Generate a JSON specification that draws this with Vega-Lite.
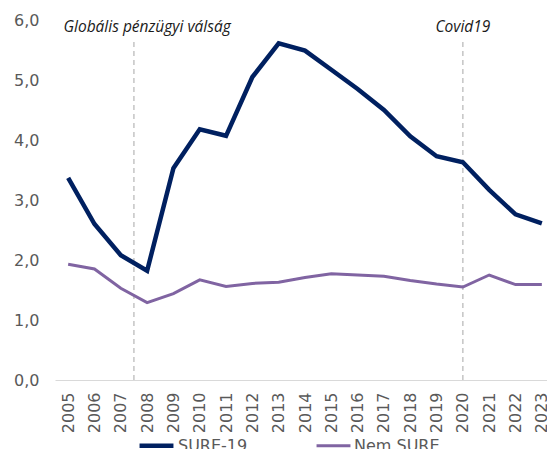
{
  "$schema": "https://vega.github.io/schema/vega-lite/v6.json",
  "width": 500,
  "height": 360,
  "autosize": {"type": "none"},
  "padding": {"left": 55, "top": 20, "right": 0, "bottom": 90},
  "config": {
    "view": {"stroke": null},
    "font": "DejaVu Sans",
    "axis": {"labelFont": "DejaVu Sans", "labelFontSize": 16, "labelColor": "#595959", "ticks": false, "grid": false, "title": null},
    "axisX": {"labelOverlap": false},
    "legend": {"labelFont": "DejaVu Sans", "labelFontSize": 16, "labelColor": "#595959"}
  },
  "encoding": {
    "x": {
      "type": "quantitative",
      "scale": {"domain": [2004.5, 2023.5], "nice": false, "zero": false},
      "axis": {
        "values": [2005, 2006, 2007, 2008, 2009, 2010, 2011, 2012, 2013, 2014, 2015, 2016, 2017, 2018, 2019, 2020, 2021, 2022, 2023],
        "format": "d", "labelAngle": -90, "labelPadding": 12,
        "domainColor": "#D9D9D9", "domainWidth": 1, "labelOverlap": false, "labelFlush": false
      }
    }
  },
  "layer": [
    {
      "data": {"values": [
        {"x": 2007.5, "y": 0, "y2": 5.65},
        {"x": 2020, "y": 0, "y2": 5.65}
      ]},
      "mark": {"type": "rule", "color": "#A6A6A6", "strokeWidth": 1, "strokeDash": [5, 4]},
      "encoding": {
        "x": {"field": "x", "type": "quantitative"},
        "y": {"field": "y", "type": "quantitative"},
        "y2": {"field": "y2"}
      }
    },
    {
      "data": {"values": [
        {"year": 2005, "series": "SURE-19", "value": 3.37},
        {"year": 2006, "series": "SURE-19", "value": 2.6},
        {"year": 2007, "series": "SURE-19", "value": 2.08},
        {"year": 2008, "series": "SURE-19", "value": 1.82},
        {"year": 2009, "series": "SURE-19", "value": 3.53},
        {"year": 2010, "series": "SURE-19", "value": 4.18},
        {"year": 2011, "series": "SURE-19", "value": 4.07},
        {"year": 2012, "series": "SURE-19", "value": 5.05},
        {"year": 2013, "series": "SURE-19", "value": 5.61},
        {"year": 2014, "series": "SURE-19", "value": 5.49},
        {"year": 2015, "series": "SURE-19", "value": 5.17},
        {"year": 2016, "series": "SURE-19", "value": 4.85},
        {"year": 2017, "series": "SURE-19", "value": 4.5},
        {"year": 2018, "series": "SURE-19", "value": 4.06},
        {"year": 2019, "series": "SURE-19", "value": 3.73},
        {"year": 2020, "series": "SURE-19", "value": 3.63},
        {"year": 2021, "series": "SURE-19", "value": 3.17},
        {"year": 2022, "series": "SURE-19", "value": 2.76},
        {"year": 2023, "series": "SURE-19", "value": 2.61},
        {"year": 2005, "series": "Nem SURE", "value": 1.93},
        {"year": 2006, "series": "Nem SURE", "value": 1.85},
        {"year": 2007, "series": "Nem SURE", "value": 1.53},
        {"year": 2008, "series": "Nem SURE", "value": 1.29},
        {"year": 2009, "series": "Nem SURE", "value": 1.44},
        {"year": 2010, "series": "Nem SURE", "value": 1.67},
        {"year": 2011, "series": "Nem SURE", "value": 1.56},
        {"year": 2012, "series": "Nem SURE", "value": 1.61},
        {"year": 2013, "series": "Nem SURE", "value": 1.63},
        {"year": 2014, "series": "Nem SURE", "value": 1.71},
        {"year": 2015, "series": "Nem SURE", "value": 1.77},
        {"year": 2016, "series": "Nem SURE", "value": 1.75},
        {"year": 2017, "series": "Nem SURE", "value": 1.73},
        {"year": 2018, "series": "Nem SURE", "value": 1.66},
        {"year": 2019, "series": "Nem SURE", "value": 1.6},
        {"year": 2020, "series": "Nem SURE", "value": 1.55},
        {"year": 2021, "series": "Nem SURE", "value": 1.75},
        {"year": 2022, "series": "Nem SURE", "value": 1.59},
        {"year": 2023, "series": "Nem SURE", "value": 1.59}
      ]},
      "mark": {"type": "line", "strokeJoin": "miter"},
      "encoding": {
        "x": {"field": "year", "type": "quantitative"},
        "y": {
          "field": "value", "type": "quantitative",
          "scale": {"domain": [0, 6], "nice": false},
          "axis": {
            "values": [0, 1, 2, 3, 4, 5, 6],
            "labelExpr": "replace(format(datum.value, '.1f'), '.', ',')",
            "domain": false, "labelPadding": 16
          }
        },
        "color": {
          "field": "series", "type": "nominal",
          "scale": {"domain": ["SURE-19", "Nem SURE"], "range": ["#002060", "#8064A2"]},
          "legend": {
            "title": null, "orient": "none", "direction": "horizontal",
            "legendX": 82, "legendY": 406,
            "symbolType": "stroke", "symbolSize": 1150, "symbolStrokeWidth": 4.5,
            "labelOffset": 2, "columnPadding": 62
          }
        },
        "strokeWidth": {
          "field": "series", "type": "nominal",
          "scale": {"domain": ["SURE-19", "Nem SURE"], "range": [4.5, 3]},
          "legend": null
        }
      }
    },
    {
      "data": {"values": [
        {"x": 2008, "y": 5.88, "label": "Globális pénzügyi válság"},
        {"x": 2020, "y": 5.88, "label": "Covid19"}
      ]},
      "mark": {"type": "text", "font": "Open Sans", "fontStyle": "italic", "fontSize": 15.5, "color": "#1a1a1a", "align": "center", "baseline": "middle"},
      "encoding": {
        "x": {"field": "x", "type": "quantitative"},
        "y": {"field": "y", "type": "quantitative"},
        "text": {"field": "label"}
      }
    }
  ]
}
